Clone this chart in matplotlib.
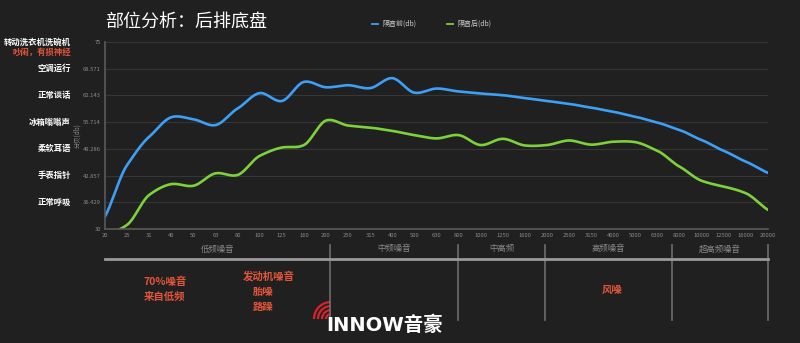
import numpy as np
import matplotlib
matplotlib.use("Agg")
import matplotlib.pyplot as plt
from matplotlib.patches import Arc
from matplotlib.transforms import blended_transform_factory

plt.rcParams['font.family'] = ['Noto Sans CJK SC', 'DejaVu Sans']

# 1/3 倍频程中心频率
freqs = ['20', '25', '31', '40', '50', '63', '80', '100', '125', '160', '200',
         '250', '315', '400', '500', '630', '800', '1000', '1250', '1600', '2000',
         '2500', '3150', '4000', '5000', '6300', '8000', '10000', '12500', '16000', '20000']
before_db = [33.0, 45.4, 52.2, 56.9, 56.4, 55.0, 59.0, 62.7, 60.8, 65.4, 64.1,
             64.6, 63.9, 66.3, 62.8, 63.8, 63.1, 62.6, 62.2, 61.5, 60.8,
             60.1, 59.2, 58.2, 57.0, 55.6, 53.8, 51.4, 48.8, 46.2, 43.5]
after_db = [28.5, 31.0, 38.2, 40.8, 40.4, 43.4, 43.0, 47.6, 49.6, 50.2, 56.1,
            54.9, 54.4, 53.6, 52.6, 51.8, 52.6, 50.2, 51.7, 50.1, 50.2,
            51.3, 50.3, 51.0, 50.9, 48.8, 45.0, 41.6, 40.2, 38.6, 34.6]
y_ticks = [30, 36.429, 42.857, 49.286, 55.714, 62.143, 68.571, 75]
ref_labels = ['正常呼吸', '手表指针', '柔软耳语', '冰箱嗡嗡声', '正常谈话', '空调运行']
bands = ['低频噪音', '中频噪音', '中高频', '高频噪音', '超高频噪音']
band_edges = [0, 10.18, 15.97, 19.9, 25.66, 30]

BG = '#202020'
BLUE = '#3d9ff5'
GREEN = '#7dd13a'
RED = '#e2553a'
TICK = '#8a8a8a'


def smooth(y, n=20):
    # 三次 Hermite 平滑曲线
    y = np.asarray(y, float)
    m = np.zeros_like(y)
    m[1:-1] = (y[2:] - y[:-2]) / 2
    m[0] = y[1] - y[0]
    m[-1] = y[-1] - y[-2]
    xs, ys = [], []
    for i in range(len(y) - 1):
        t = np.linspace(0, 1, n, endpoint=False)
        h00 = 2 * t**3 - 3 * t**2 + 1
        h10 = t**3 - 2 * t**2 + t
        h01 = -2 * t**3 + 3 * t**2
        h11 = t**3 - t**2
        xs.append(i + t)
        ys.append(h00 * y[i] + h10 * m[i] * 0.8 + h01 * y[i + 1] + h11 * m[i + 1] * 0.8)
    xs.append([len(y) - 1])
    ys.append([y[-1]])
    return np.concatenate(xs), np.concatenate(ys)


fig = plt.figure(figsize=(8, 3.43), dpi=100, facecolor=BG)

ax = fig.add_axes([105 / 800, 1 - 229 / 343, 663 / 800, 187 / 343], facecolor=BG)
x = np.arange(len(freqs))
for vals, c in [(before_db, BLUE), (after_db, GREEN)]:
    sx, sy = smooth(vals)
    ax.plot(sx, sy, color=c, lw=1.9, solid_capstyle='round', clip_on=True)

ax.set_xlim(0, len(freqs) - 1)
ax.set_ylim(30, 75)
ax.set_yticks(y_ticks)
ax.set_yticklabels(['30', '36.429', '42.857', '49.286', '55.714', '62.143', '68.571', '75'])
ax.set_xticks(x)
ax.set_xticklabels(freqs)
ax.tick_params(colors=TICK, labelsize=4.2, length=0, pad=3)
ax.grid(axis='y', color='#363636', lw=0.8)
ax.set_axisbelow(True)
for s in ['top', 'right']:
    ax.spines[s].set_visible(False)
ax.spines['left'].set_color('#5a5a5a')
ax.spines['bottom'].set_color('#5a5a5a')
ax.spines['left'].set_linewidth(1.2)
ax.spines['bottom'].set_linewidth(1.2)
ax.set_ylabel('分贝(db)', color=TICK, fontsize=4.5, labelpad=1)

# 左侧参考声源标注
for v, lab in zip(y_ticks[1:7], ref_labels):
    ax.annotate(lab, xy=(0, v), xycoords=('axes fraction', 'data'),
                xytext=(-24.5, 0), textcoords='offset points', ha='right', va='center',
                color='white', fontsize=6, fontweight='bold')
ax.annotate('转动洗衣机洗碗机', xy=(0, 75), xycoords=('axes fraction', 'data'),
            xytext=(-24.5, 0), textcoords='offset points', ha='right', va='center',
            color='white', fontsize=6, fontweight='bold')
ax.annotate('吵闹，有损神经', xy=(0, 75), xycoords=('axes fraction', 'data'),
            xytext=(-24.5, -7.5), textcoords='offset points', ha='right', va='center',
            color=RED, fontsize=6, fontweight='bold')

fig.text(105 / 800, 1 - 22 / 343, '部位分析：后排底盘', color='white', fontsize=13,
         ha='left', va='center')

# 图例
fig.lines.append(plt.Line2D([372 / 800, 378 / 800], [1 - 24 / 343] * 2, color=BLUE, lw=1.3,
                            transform=fig.transFigure))
fig.text(382 / 800, 1 - 24 / 343, '隔音前(db)', color='#cccccc', fontsize=5, va='center')
fig.lines.append(plt.Line2D([447 / 800, 453 / 800], [1 - 24 / 343] * 2, color=GREEN, lw=1.3,
                            transform=fig.transFigure))
fig.text(457 / 800, 1 - 24 / 343, '隔音后(db)', color='#cccccc', fontsize=5, va='center')

# 噪音来源说明
for tx, ty, s in [(165, 282, '70%噪音'), (165, 297, '来自低频'), (269, 276, '发动机噪音'),
                  (263, 292, '胎噪'), (263, 307, '路躁'), (612, 290, '风噪')]:
    fig.text(tx / 800, 1 - ty / 343, s, color=RED, fontsize=7.5, fontweight='bold',
             ha='center', va='center')

# 像素坐标覆盖层
ov = fig.add_axes([0, 0, 1, 1], facecolor='none')
ov.set_xlim(0, 800)
ov.set_ylim(343, 0)
ov.axis('off')

# 频段分区：横向按类目，纵向按像素
band_tr = blended_transform_factory(ax.transData, ov.transData)
for e in band_edges[1:]:
    ov.plot([e, e], [245, 320], color='#6e6e6e', lw=1.2, transform=band_tr, clip_on=False)
ov.plot([0, 30], [259, 259], color='#9a9a9a', lw=2, transform=band_tr, clip_on=False)
for lo, hi, name in zip(band_edges[:-1], band_edges[1:], bands):
    ov.text((lo + hi) / 2, 249, name, ha='center', va='center', color=TICK, fontsize=6,
            transform=band_tr)

# 标志
for r in [5, 9, 13, 17]:
    ov.add_patch(Arc((331, 319), 2 * r, 2 * r, theta1=180, theta2=270, color='#d8232a', lw=1.6))
ov.text(326, 325, 'INNOW音豪', color='white', fontsize=14, fontweight='bold', ha='left',
        va='center', family=['DejaVu Sans', 'Noto Sans CJK SC'])

fig.savefig('out.png', dpi=100, facecolor=BG)
